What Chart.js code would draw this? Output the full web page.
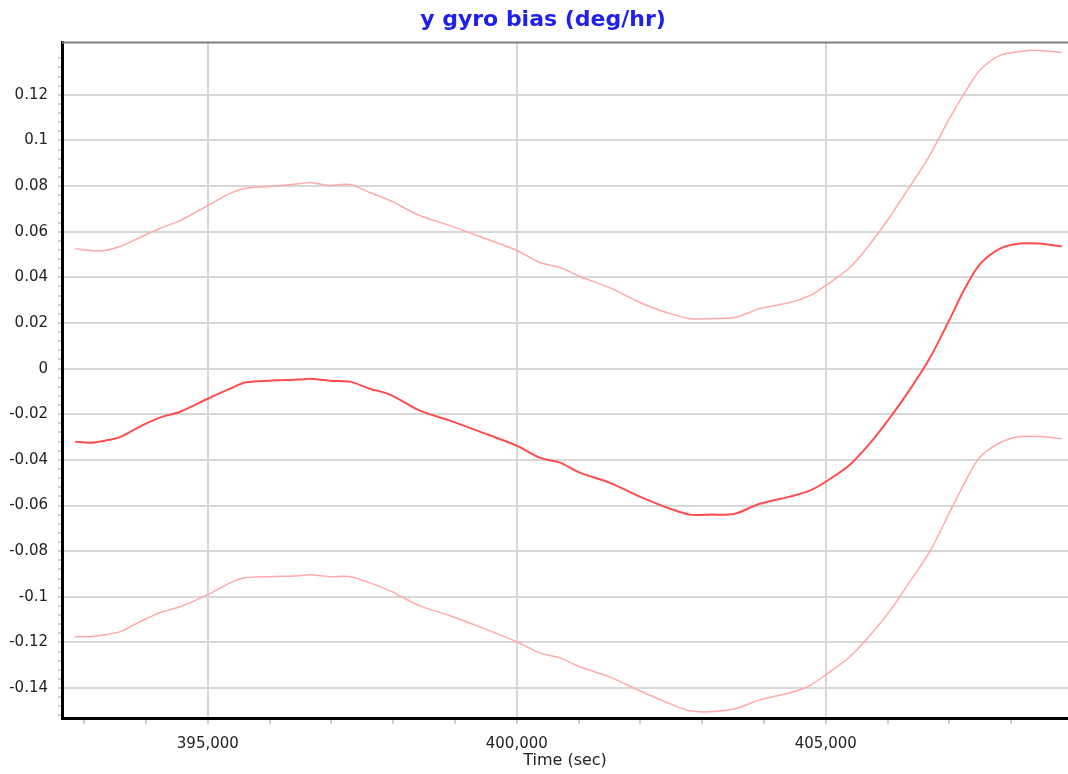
<!DOCTYPE html>
<html>
<head>
<meta charset="utf-8">
<script src="https://cdn.jsdelivr.net/npm/chart.js@4.4.1/dist/chart.umd.min.js"></script>
<style>
  html, body { margin: 0; padding: 0; background: #fff; }
  #wrap { width: 1068px; height: 774px; }
</style>
</head>
<body>
<div id="wrap"><canvas id="gyroChart" width="1068" height="774"></canvas></div>
<script>
// time (sec)
const times = [392850, 393090, 393330, 393580, 393900, 394220, 394550, 395000, 395360, 395600,
  396000, 396490, 396650, 396970, 397300, 397620, 397950, 398430, 398920, 399400,
  400000, 400370, 400700, 401020, 401500, 401990, 402480, 402800, 403120, 403530,
  403930, 404420, 404740, 405000, 405390, 405710, 406040, 406360, 406680, 407010,
  407250, 407490, 407820, 408140, 408460, 408820];

// estimated bias
const biasMid = [-0.0320, -0.0325, -0.0316, -0.0300, -0.0254, -0.0215, -0.0189, -0.0132, -0.0088, -0.0061,
  -0.0053, -0.0048, -0.0044, -0.0053, -0.0057, -0.0088, -0.0114, -0.0184, -0.0228, -0.0276,
  -0.0338, -0.0390, -0.0412, -0.0456, -0.0500, -0.0561, -0.0614, -0.0640, -0.0640, -0.0636,
  -0.0592, -0.0561, -0.0535, -0.0496, -0.0421, -0.0329, -0.0215, -0.0092, 0.0044, 0.0219,
  0.0351, 0.0456, 0.0526, 0.0548, 0.0548, 0.0535];

// upper bound
const biasHigh = [0.0526, 0.0518, 0.0518, 0.0535, 0.0575, 0.0614, 0.0649, 0.0715, 0.0768, 0.0790,
  0.0798, 0.0811, 0.0816, 0.0803, 0.0807, 0.0772, 0.0737, 0.0671, 0.0627, 0.0579,
  0.0518, 0.0465, 0.0443, 0.0404, 0.0355, 0.0290, 0.0241, 0.0219, 0.0219, 0.0224,
  0.0263, 0.0290, 0.0320, 0.0364, 0.0443, 0.0544, 0.0667, 0.0798, 0.0934, 0.1100,
  0.1210, 0.1307, 0.1373, 0.1390, 0.1395, 0.1386];

// lower bound
const biasLow = [-0.1175, -0.1175, -0.1167, -0.1153, -0.1110, -0.1070, -0.1044, -0.0991, -0.0939, -0.0917,
  -0.0912, -0.0908, -0.0904, -0.0912, -0.0912, -0.0939, -0.0974, -0.1040, -0.1083, -0.1132,
  -0.1197, -0.1246, -0.1268, -0.1307, -0.1351, -0.1412, -0.1469, -0.1500, -0.1504, -0.1491,
  -0.1452, -0.1421, -0.1390, -0.1342, -0.1263, -0.1171, -0.1061, -0.0934, -0.0803, -0.0627,
  -0.0500, -0.0390, -0.0325, -0.0298, -0.0298, -0.0307];

const xTickStep = 1000;
const yTickStep = 0.004;

function pts(vals) {
    return times.map(function(t, i) { return { x: t, y: vals[i] }; });
}

// gray frame on top of the plot, title nudged right a bit
const frame = {
    id: 'frame',
    afterLayout: function(chart) {
        if (chart.titleBlock) chart.titleBlock.left += 18;
    },
    afterDraw: function(chart) {
        const a = chart.chartArea;
        const ctx = chart.ctx;
        ctx.save();
        ctx.strokeStyle = '#808080';
        ctx.lineWidth = 2;
        ctx.beginPath();
        ctx.moveTo(a.left, a.top);
        ctx.lineTo(a.right, a.top);
        ctx.stroke();
        ctx.restore();
    }
};

const ctx = document.getElementById('gyroChart');
new Chart(ctx, {
    type: 'line',
    data: {
        datasets: [
            { data: pts(biasHigh), borderColor: '#ffaaaa', borderWidth: 1.5, pointRadius: 0, tension: 0.3 },
            { data: pts(biasMid), borderColor: '#ff4d4d', borderWidth: 2, pointRadius: 0, tension: 0.3 },
            { data: pts(biasLow), borderColor: '#ffaaaa', borderWidth: 1.5, pointRadius: 0, tension: 0.3 }
        ]
    },
    options: {
        responsive: false,
        animation: false,
        layout: { padding: { left: 0, right: 0, top: 0, bottom: 4 } },
        plugins: {
            legend: { display: false },
            tooltip: { enabled: false },
            title: {
                display: true,
                text: 'y gyro bias (deg/hr)',
                color: '#2020ee',
                font: { family: 'DejaVu Sans', size: 22, weight: 'bold' },
                padding: { top: 7, bottom: 9 }
            }
        },
        scales: {
            x: {
                type: 'linear',
                min: 392640,
                max: 408920,
                afterBuildTicks: function(scale) {
                    const t = [];
                    for (let v = 393000; v <= 408000; v += xTickStep) t.push({ value: v });
                    scale.ticks = t;
                },
                ticks: {
                    autoSkip: false,
                    maxRotation: 0,
                    color: '#222',
                    font: { family: 'DejaVu Sans', size: 15 },
                    padding: 11,
                    callback: function(v) {
                        return v % 5000 === 0 ? v.toLocaleString('en-US') : '';
                    }
                },
                grid: {
                    color: function(c) { return c.tick && c.tick.value % 5000 === 0 ? '#d8d8d8' : 'rgba(0,0,0,0)'; },
                    lineWidth: 2,
                    tickColor: '#999',
                    tickLength: 5,
                    tickWidth: 1
                },
                border: { color: '#000', width: 3 },
                title: {
                    display: true,
                    text: 'Time (sec)',
                    color: '#222',
                    font: { family: 'DejaVu Sans', size: 16 },
                    padding: { top: -13, bottom: 0 }
                }
            },
            y: {
                min: -0.1535,
                max: 0.143,
                afterBuildTicks: function(scale) {
                    const t = [];
                    for (let k = -38; k <= 34; k++) t.push({ value: k * yTickStep });
                    scale.ticks = t;
                },
                afterFit: function(scale) { scale.width = 62; },
                ticks: {
                    autoSkip: false,
                    color: '#222',
                    font: { family: 'DejaVu Sans', size: 15 },
                    padding: 10,
                    callback: function(v) {
                        const k = Math.round(v * 1000);
                        if (k % 20 !== 0) return '';
                        return k === 0 ? '0' : String(parseFloat((k / 1000).toFixed(2)));
                    }
                },
                grid: {
                    color: function(c) {
                        return c.tick && Math.round(c.tick.value * 1000) % 20 === 0 ? '#d8d8d8' : 'rgba(0,0,0,0)';
                    },
                    lineWidth: 2,
                    tickColor: '#999',
                    tickLength: 4,
                    tickWidth: 1
                },
                border: { color: '#000', width: 3 }
            }
        }
    },
    plugins: [frame]
});
</script>
</body>
</html>
